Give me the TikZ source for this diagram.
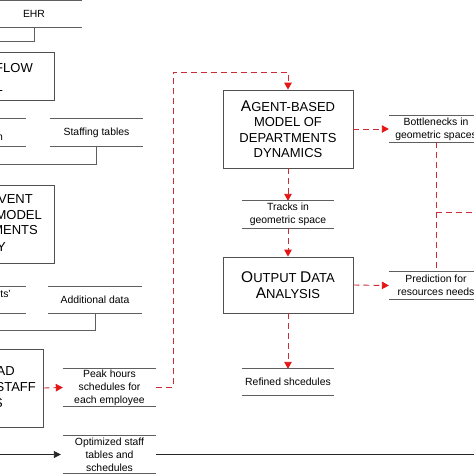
\documentclass[tikz,border=0pt]{standalone}
\usepackage{fontspec}
\setmainfont{Liberation Sans}
\usepackage{tikz}
\usetikzlibrary{arrows.meta}

\definecolor{boxgray}{RGB}{80,80,80}
\definecolor{storegray}{RGB}{95,95,95}
\definecolor{flowred}{RGB}{200,45,55}
\definecolor{tipred}{RGB}{230,20,20}

\newcommand{\storefont}{\fontsize{10.4}{13}\selectfont}
\newcommand{\procfont}{\fontsize{13}{15.5}\selectfont}
\newcommand{\initcap}[1]{{\fontsize{15.5}{15.5}\selectfont #1}}

\tikzset{
    storeline/.style={draw=storegray, line width=0.9pt},
    store/.style={inner sep=0pt, align=center, font=\storefont,
        append after command={
            (\tikzlastnode.north west) edge[storeline] (\tikzlastnode.north east)
            (\tikzlastnode.south west) edge[storeline] (\tikzlastnode.south east)}},
    proc/.style={draw=boxgray, line width=0.8pt, inner sep=0pt, align=center, font=\procfont},
    cut/.style={inner sep=0pt, anchor=east, font=\procfont},
    redflow/.style={draw=flowred, line width=0.9pt, dash pattern=on 6pt off 4pt},
    redarrow/.style={redflow, -{Triangle[length=7pt,width=7.5pt,color=tipred]}},
    blackarrow/.style={draw=black!85, line width=0.9pt, -{Triangle[length=7pt,width=7pt]}},
}

\begin{document}
\begin{tikzpicture}[x=1pt,y=-1pt]
            \useasboundingbox (0,0) rectangle (474,474);
            \fill[white] (0,0) rectangle (474,474);
            \clip (0,0) rectangle (474,474);

            % left column (cut by the frame)
            \node[store, minimum width=96, minimum height=27] (ehr) at (34,14) {EHR};
            \node[proc, minimum width=134, minimum height=48] (flow) at (-13,76) {};
            \node[cut] at (33,68) {FLOW};
            \node[cut] at (3,87) {L};

            \node[store, minimum width=92, minimum height=27] (resin) at (-20,132.5) {};
            \node[cut, font=\storefont] at (3,138) {n};
            \node[store, minimum width=93, minimum height=27] (staffing) at (96.5,132.5) {Staffing tables};

            \node[proc, minimum width=134, minimum height=78] (event) at (-13,224) {};
            \node[cut] at (33,199) {VENT};
            \node[cut] at (42,215) {MODEL};
            \node[cut] at (38,230) {MENTS};
            \node[cut] at (6,247) {Y};

            \node[store, minimum width=92, minimum height=26] (patin) at (-20,300) {};
            \node[cut, font=\storefont] at (11,294) {ts'};
            \node[store, minimum width=94, minimum height=26] (additional) at (95,300) {Additional data};

            \node[proc, minimum width=134, minimum height=78] (workload) at (-24,388) {};
            \node[cut] at (15,371) {AD};
            \node[cut] at (36,387) {STAFF};
            \node[cut] at (3,403) {S};

            \node[store, minimum width=93, minimum height=37] (peak) at (109.5,387.5)
                {Peak hours\\schedules for\\each employee};
            \node[store, minimum width=93, minimum height=37] (optimized) at (109.5,454.5)
                {Optimized staff\\tables and\\schedules};

            % middle column
            \node[proc, minimum width=130, minimum height=78] (agent) at (288,129)
                {\initcap{A}GENT-BASED\\MODEL OF\\DEPARTMENTS\\DYNAMICS};
            \node[store, minimum width=92, minimum height=27] (tracks) at (288,214.5)
                {Tracks in\\geometric space};
            \node[proc, minimum width=130, minimum height=56] (output) at (288,285)
                {\initcap{O}UTPUT \initcap{D}ATA\\\initcap{A}NALYSIS};
            \node[store, minimum width=92, minimum height=26] (refined) at (288,382)
                {Refined shcedules};

            % right column
            \node[store, minimum width=94, minimum height=26] (bottleneck) at (436,129)
                {Bottlenecks in\\geometric spaces};
            \node[store, minimum width=94, minimum height=27] (prediction) at (436,285.5)
                {Prediction for\\resources needs};

            \coordinate (loop) at (173,72);
            \coordinate (branch) at (436,212);

            % black connectors
            \draw[draw=storegray, line width=0.9pt] (ehr.south) |- (-20,41);
            \draw[draw=storegray, line width=0.9pt] (staffing.south) |- (-20,164);
            \draw[draw=storegray, line width=0.9pt] (additional.south) |- (-20,330);
            \draw[blackarrow, shorten >=2pt] (-20,454.5) -- (optimized.west);
            \draw[draw=black!85, line width=0.9pt] (optimized.east) -- (500,454.5);

            % red dashed connectors
            \draw[redarrow] (workload.east) -- (peak.west);
            \draw[redarrow] (peak.east) -| (loop) -| (agent.north);
            \draw[redarrow] (agent.south) -- (tracks.north);
            \draw[redarrow] (tracks.south) -- (output.north);
            \draw[redarrow] (output.south) -- (refined.north);
            \draw[redarrow] (agent.east) -- (bottleneck.west);
            \draw[redarrow] (output.east) -- (prediction.west);
            \draw[redflow] (bottleneck.south) -- (prediction.north);
            \draw[redflow] (branch) -- (500,212);
        \end{tikzpicture}
\end{document}
